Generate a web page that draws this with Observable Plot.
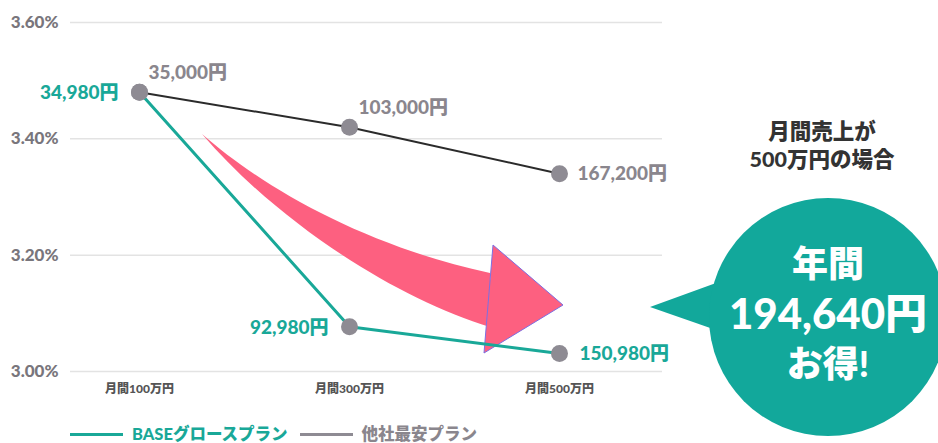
<!DOCTYPE html>
<html>
<head>
<meta charset="utf-8">
<script src="https://cdn.jsdelivr.net/npm/d3@7"></script>
<script src="https://cdn.jsdelivr.net/npm/@observablehq/plot@0.6"></script>
<style>
  html, body { margin: 0; padding: 0; background: #fff; }
  #wrap { position: relative; width: 938px; height: 443px; overflow: hidden; font-family: Lato, "Noto Sans CJK JP", sans-serif; }
  #legend { position: absolute; left: 70px; top: 424px; height: 20px; display: flex; align-items: center; font-weight: 900; font-size: 16.5px; white-space: nowrap; line-height: 20px; }
  #legend .sw { display: inline-block; width: 53px; height: 3px; margin-right: 9px; }
  #legend .lab { margin-right: 12px; }
</style>
</head>
<body>
<div id="wrap"></div>
<script>
// ---- data ----
const categories = ["月間100万円", "月間300万円", "月間500万円"];
const seriesNames = ["BASEグロースプラン", "他社最安プラン"];
const baseRates = [3.48, 3.077, 3.031];
const otherRates = [3.48, 3.42, 3.34];
const baseCosts = ["34,980円", "92,980円", "150,980円"];
const otherCosts = ["35,000円", "103,000円", "167,200円"];
const yTicks = [3.0, 3.2, 3.4, 3.6];
const noteLines = ["月間売上が", "500万円の場合"];
const bubbleLines = ["年間", "194,640円", "お得!"];

// ---- styles ----
const TEAL = "#19a898";
const BUBBLE = "#12a89b";
const GRAY = "#8e8b93";
const LABEL_GRAY = "#8a868d";
const PINK = "#fd6080";
const FONT = 'Lato, "Noto Sans CJK JP", sans-serif';

const base = categories.map((c, i) => ({cat: c, rate: baseRates[i], cost: baseCosts[i], idx: i}));
const other = categories.map((c, i) => ({cat: c, rate: otherRates[i], cost: otherCosts[i], idx: i}));

// decorative annotation (arrow)
function arrowMark(index, scales, values, dim) {
  const g = d3.create("svg:g");
  g.append("path")
    .attr("d", "M202,134 C260,185 360,245 490,273 L490,327 C400,300 280,225 202,134 Z")
    .attr("fill", PINK);
  g.append("path")
    .attr("d", "M493,245 L563,305 L484,353 Z")
    .attr("fill", PINK)
    .attr("stroke", "#7c6fe2")
    .attr("stroke-width", 1)
    .attr("stroke-linejoin", "miter");
  return g.node();
}

function bubbleMark(index, scales, values, dim) {
  const g = d3.create("svg:g").attr("font-family", FONT).attr("font-weight", 900);
  g.append("path").attr("d", "M650,307 L716,283 L716,330 Z").attr("fill", BUBBLE);
  g.append("circle").attr("cx", 828).attr("cy", 317).attr("r", 119).attr("fill", BUBBLE);
  const sizes = [36, 42, 36];
  const ys = [264, 314, 364];
  bubbleLines.forEach((t, i) => {
    g.append("text").attr("x", 828).attr("y", ys[i]).attr("dy", "0.36em")
      .attr("text-anchor", "middle").attr("fill", "#fff").attr("font-size", sizes[i]).text(t);
  });
  const ny = [131, 159];
  noteLines.forEach((t, i) => {
    g.append("text").attr("x", 822).attr("y", ny[i]).attr("dy", "0.36em")
      .attr("text-anchor", "middle").attr("fill", "#333").attr("font-size", 21.5).text(t);
  });
  return g.node();
}

const fmt = d => d.toFixed(2) + "%";

const chart = Plot.plot({
  width: 938,
  height: 424,
  marginLeft: 70,
  marginRight: 276,
  marginTop: 22,
  marginBottom: 53,
  style: {fontFamily: FONT, background: "transparent", overflow: "visible"},
  x: {type: "point", domain: categories, padding: 0, insetLeft: 69, insetRight: 103, label: null},
  y: {domain: [3.0, 3.6], label: null},
  marks: [
    Plot.ruleY(yTicks, {stroke: "#e3e3e3", strokeWidth: 1.5}),
    Plot.axisY({ticks: yTicks, tickFormat: fmt, tickSize: 0, tickPadding: 12, fontSize: 17, fontWeight: 900, fill: "#79767c", label: null}),
    Plot.axisX({tickSize: 0, tickPadding: 13, fontSize: 12, fontWeight: 900, fill: "#555", label: null}),
    arrowMark,
    Plot.lineY(other, {x: "cat", y: "rate", stroke: "#2b2b2b", strokeWidth: 2}),
    Plot.lineY(base, {x: "cat", y: "rate", stroke: TEAL, strokeWidth: 3}),
    Plot.dot(base, {x: "cat", y: "rate", r: 8.5, fill: GRAY}),
    Plot.dot(other, {x: "cat", y: "rate", r: 8.5, fill: GRAY}),
    // BASE labels
    Plot.text(base, {filter: d => d.idx < 2, x: "cat", y: "rate", text: "cost", textAnchor: "end", dx: -21, dy: 1, fill: TEAL, fontSize: 19, fontWeight: 900}),
    Plot.text(base, {filter: d => d.idx === 2, x: "cat", y: "rate", text: "cost", textAnchor: "start", dx: 20, fill: TEAL, fontSize: 19, fontWeight: 900}),
    // other labels
    Plot.text(other, {filter: d => d.idx < 2, x: "cat", y: "rate", text: "cost", textAnchor: "start", dx: 9, dy: -19, fill: LABEL_GRAY, fontSize: 19, fontWeight: 900}),
    Plot.text(other, {filter: d => d.idx === 2, x: "cat", y: "rate", text: "cost", textAnchor: "start", dx: 18, fill: LABEL_GRAY, fontSize: 19, fontWeight: 900}),
    bubbleMark
  ]
});

const wrap = document.getElementById("wrap");
wrap.appendChild(chart);

const legend = document.createElement("div");
legend.id = "legend";
const colors = [TEAL, GRAY];
const textColors = [TEAL, LABEL_GRAY];
seriesNames.forEach((n, i) => {
  const sw = document.createElement("span");
  sw.className = "sw";
  sw.style.background = colors[i];
  const lab = document.createElement("span");
  lab.className = "lab";
  lab.style.color = textColors[i];
  lab.textContent = n;
  legend.appendChild(sw);
  legend.appendChild(lab);
});
wrap.appendChild(legend);
</script>
</body>
</html>
